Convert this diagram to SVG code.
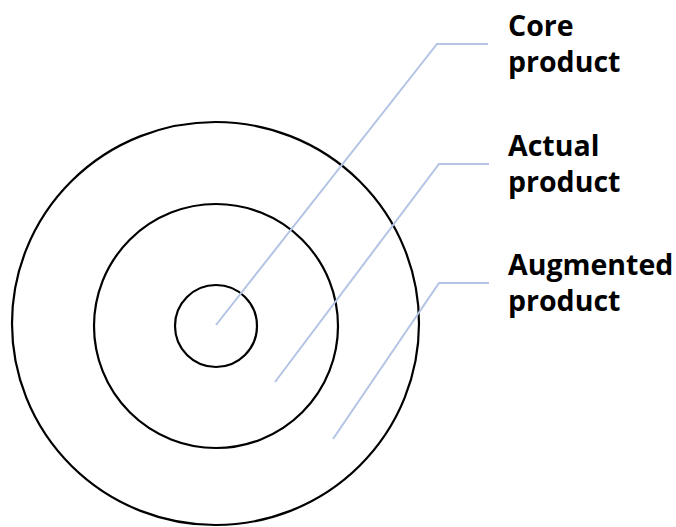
<svg xmlns="http://www.w3.org/2000/svg" width="676" height="527" viewBox="0 0 676 527">
<style>
.ring{fill:none;stroke:#000;stroke-width:2.2}
.lead{fill:none;stroke:#b4c4e4;stroke-width:2}
.lbl{font-family:"Open Sans","Liberation Sans",sans-serif;font-weight:bold;font-size:28.5px;fill:#000}
</style>
<rect width="676" height="527" fill="#fff"/>
<g id="augmented-ring"><ellipse class="ring" cx="215.5" cy="323.5" rx="203.5" ry="201.5"/></g>
<g id="actual-ring"><ellipse class="ring" cx="216" cy="326" rx="122" ry="122"/></g>
<g id="core-ring"><ellipse class="ring" cx="216" cy="326" rx="41" ry="41"/></g>
<g id="connectors">
<polyline class="lead" points="216,325 437,44 488,44"/>
<polyline class="lead" points="275,382 439,164 489,164"/>
<polyline class="lead" points="333,439 439,283 489,283"/>
</g>
<g id="label-core"><text class="lbl" x="508" y="36">Core</text><text class="lbl" x="508" y="72">product</text></g>
<g id="label-actual"><text class="lbl" x="508" y="156">Actual</text><text class="lbl" x="508" y="192">product</text></g>
<g id="label-augmented"><text class="lbl" x="508" y="275">Augmented</text><text class="lbl" x="508" y="311">product</text></g>
</svg>
